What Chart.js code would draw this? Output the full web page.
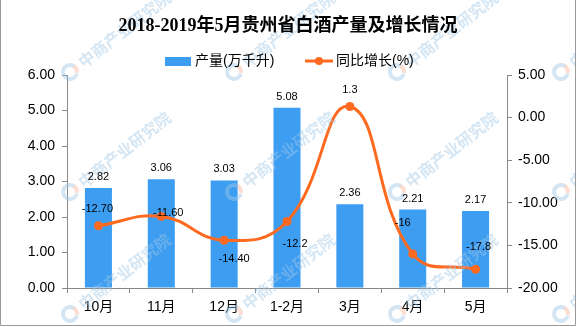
<!DOCTYPE html>
<html>
<head>
<meta charset="utf-8">
<script src="https://cdn.jsdelivr.net/npm/chart.js@4.4.0/dist/chart.umd.min.js"></script>
<style>
  html, body { margin: 0; padding: 0; background: #fff; }
  #wrap { width: 576px; height: 327px; }
</style>
</head>
<body>
<div id="wrap"><canvas id="chart" width="576" height="327"></canvas></div>
<script>
const categories = ["10月", "11月", "12月", "1-2月", "3月", "4月", "5月"];
const output = [2.82, 3.06, 3.03, 5.08, 2.36, 2.21, 2.17];       // 产量(万千升)
const growth = [-12.70, -11.60, -14.40, -12.2, 1.3, -16, -17.8];   // 同比增长(%)
const growthText = ["-12.70", "-11.60", "-14.40", "-12.2", "1.3", "-16", "-17.8"];

const titleText = "2018-2019年5月贵州省白酒产量及增长情况";
const barName = "产量(万千升)";
const lineName = "同比增长(%)";

const BLUE = "#3d9df1";
const ORANGE = "#ff6a21";
const CJK = "'Noto Sans CJK SC'";

// label nudges relative to each line point (dx, dy)
const lineLabelShift = [[-1, -17], [7, -3], [10, 19], [8, 22], [0, -17], [-10, -31], [3, -22]];

function drawWatermark(ctx) {
    const xs = [70, 234, 397, 561];
    const ys = [72, 192, 314];
    ctx.save();
    ys.forEach(y => xs.forEach(x => {
        ctx.save();
        ctx.translate(x, y);
        ctx.rotate(-0.66);
        // logo
        ctx.lineWidth = 4;
        ctx.strokeStyle = "rgba(160,200,230,0.45)";
        ctx.beginPath();
        ctx.arc(0, 0, 7, 0.9, Math.PI * 1.9);
        ctx.stroke();
        ctx.strokeStyle = "rgba(245,170,140,0.4)";
        ctx.beginPath();
        ctx.arc(0, 0, 7, -0.4, 0.8);
        ctx.stroke();
        ctx.fillStyle = "rgba(160,200,230,0.45)";
        ctx.font = "bold 16px " + CJK;
        ctx.textBaseline = "middle";
        ctx.fillText("中商产业研究院", 13, 0);
        ctx.restore();
    }));
    ctx.restore();
}

const extras = {
    id: "extras",
    beforeDraw(chart) {
        const ctx = chart.ctx;
        ctx.save();
        ctx.fillStyle = "#fff";
        ctx.fillRect(0, 0, chart.width, chart.height);
        ctx.restore();
    },
    afterDatasetsDraw(chart) {
        const ctx = chart.ctx;
        drawWatermark(ctx);

        ctx.save();
        ctx.fillStyle = "#000";
        ctx.font = "11px 'Liberation Sans'";
        ctx.textAlign = "center";
        ctx.textBaseline = "middle";
        chart.getDatasetMeta(0).data.forEach((bar, i) => {
            ctx.fillText(output[i].toFixed(2), bar.x, bar.y - 11);
        });
        chart.getDatasetMeta(1).data.forEach((pt, i) => {
            const s = lineLabelShift[i];
            ctx.fillText(growthText[i], pt.x + s[0], pt.y + s[1]);
        });
        ctx.restore();
    },
    afterDraw(chart) {
        const ctx = chart.ctx;
        ctx.save();
        // title
        ctx.fillStyle = "#000";
        ctx.font = "bold 18px 'Liberation Serif', " + CJK;
        ctx.textAlign = "center";
        ctx.textBaseline = "middle";
        ctx.fillText(titleText, 288, 26);

        // legend
        ctx.font = "14px 'Liberation Sans', " + CJK;
        ctx.textAlign = "left";
        ctx.fillStyle = BLUE;
        ctx.fillRect(165, 57, 26, 9);
        ctx.fillStyle = "#000";
        ctx.fillText(barName, 195, 61);

        ctx.strokeStyle = ORANGE;
        ctx.lineWidth = 3;
        ctx.beginPath();
        ctx.moveTo(305, 61);
        ctx.lineTo(333, 61);
        ctx.stroke();
        ctx.fillStyle = ORANGE;
        ctx.beginPath();
        ctx.arc(319, 61, 4, 0, Math.PI * 2);
        ctx.fill();
        ctx.fillStyle = "#000";
        ctx.fillText(lineName, 336, 61);

        // frame
        ctx.strokeStyle = "#999";
        ctx.lineWidth = 1;
        ctx.beginPath();
        ctx.moveTo(0.5, 0);
        ctx.lineTo(0.5, 325.5);
        ctx.lineTo(575.5, 325.5);
        ctx.lineTo(575.5, 0);
        ctx.stroke();
        ctx.restore();
    }
};

const axisGrid = { drawOnChartArea: false, color: "#888", tickLength: 5, tickColor: "#888" };
const tickFont = { family: "'Liberation Sans', " + CJK, size: 14 };

new Chart(document.getElementById("chart"), {
    type: "bar",
    data: {
        labels: categories,
        datasets: [{
            type: "bar",
            label: barName,
            data: output,
            backgroundColor: BLUE,
            barPercentage: 0.43,
            categoryPercentage: 1,
            yAxisID: "y",
            order: 1
        }, {
            type: "line",
            label: lineName,
            data: growth,
            borderColor: ORANGE,
            backgroundColor: ORANGE,
            borderWidth: 3,
            pointRadius: 4.5,
            pointBackgroundColor: ORANGE,
            pointBorderWidth: 0,
            tension: 0.45,
            yAxisID: "y1",
            order: 0
        }]
    },
    options: {
        responsive: false,
        animation: false,
        layout: { padding: { top: 75, left: 0, right: 0, bottom: 0 } },
        plugins: {
            legend: { display: false },
            title: { display: false },
            tooltip: { enabled: false }
        },
        scales: {
            x: {
                grid: { ...axisGrid, offset: true },
                border: { color: "#888" },
                ticks: { color: "#000", font: tickFont, padding: 6, maxRotation: 0 },
                afterFit: s => { s.height = 39; }
            },
            y: {
                position: "left",
                min: 0, max: 6,
                grid: axisGrid,
                border: { color: "#888" },
                ticks: {
                    stepSize: 1, color: "#000", font: tickFont, padding: 7,
                    callback: v => v.toFixed(2)
                },
                afterFit: s => { s.width = 67; }
            },
            y1: {
                position: "right",
                min: -20, max: 5,
                grid: axisGrid,
                border: { color: "#888" },
                ticks: {
                    stepSize: 5, color: "#000", font: tickFont, padding: 6,
                    callback: v => v.toFixed(2)
                },
                afterFit: s => { s.width = 69; }
            }
        }
    },
    plugins: [extras]
});
</script>
</body>
</html>
